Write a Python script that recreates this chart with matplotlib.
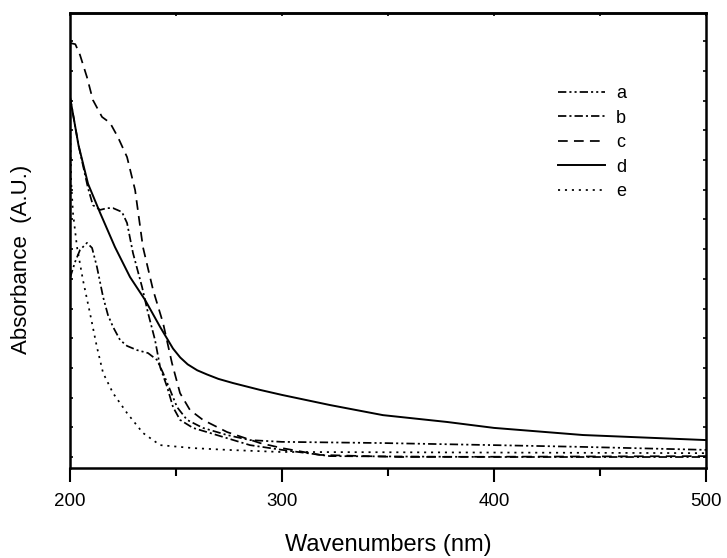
import numpy as np
import matplotlib
matplotlib.use("Agg")
import matplotlib.pyplot as plt

plt.rcParams["font.family"] = ["Liberation Sans", "DejaVu Sans"]
plt.rcParams["lines.scale_dashes"] = False

# ── Data (arbitrary absorbance units) ────────────────────────────────────────
wl_a = [200, 202.4, 204.7, 208.0, 210.4, 212.7, 215.6, 217.9, 220.3, 223.6,
        226.9, 231.6, 236.8, 241.0, 243.9, 247.2, 250.5, 255.2, 262.7, 274.1,
        284.9, 300, 347.6, 400, 442, 500]
abs_a = [0.603, 0.657, 0.697, 0.721, 0.704, 0.640, 0.539, 0.478, 0.438, 0.394,
         0.374, 0.360, 0.350, 0.327, 0.283, 0.226, 0.168, 0.125, 0.098, 0.074,
         0.057, 0.051, 0.047, 0.040, 0.034, 0.024]

wl_b = [200, 204, 208.5, 210.8, 214.2, 217.5, 220.3, 224.5, 226.9, 229.7,
        234.0, 236.8, 240.1, 242.5, 245.8, 248.6, 251.9, 258.0, 266.0, 284.9,
        300, 322.6, 400, 500]
abs_b = [1.212, 1.05, 0.905, 0.848, 0.832, 0.838, 0.838, 0.825, 0.788, 0.687,
         0.572, 0.485, 0.394, 0.303, 0.236, 0.168, 0.125, 0.098, 0.081, 0.040,
         0.024, 0.003, 0.0, 0.0]

wl_c = [200, 202.5, 204.7, 208.0, 210.8, 215.1, 218.9, 222.6, 226.9, 230.7,
        234.4, 239.2, 243.9, 248.1, 251.9, 256.6, 262.7, 274.1, 289.6, 300,
        317.9, 355.7, 500]
abs_c = [1.394, 1.39, 1.354, 1.279, 1.202, 1.145, 1.125, 1.077, 1.010, 0.899,
         0.707, 0.562, 0.451, 0.316, 0.215, 0.158, 0.125, 0.084, 0.047, 0.030,
         0.007, 0.000, 0.003]

wl_d = [200, 204, 208.5, 214.2, 221.2, 228.3, 235.4, 242.5, 248.6, 252.0,
        255.5, 260.0, 264.6, 270.0, 276.9, 289.6, 300, 322.6, 347.6, 377.8,
        400, 442, 500]
abs_d = [1.212, 1.05, 0.92, 0.822, 0.707, 0.606, 0.529, 0.438, 0.365, 0.335,
         0.312, 0.292, 0.278, 0.263, 0.249, 0.226, 0.209, 0.175, 0.141, 0.118,
         0.098, 0.074, 0.057]

wl_e = [200, 200.5, 201.4, 203.3, 206.1, 209.4, 212.7, 215.6, 220.3, 226.9,
        234.4, 242.5, 258.0, 274.1, 299.1, 400, 500]
abs_e = [1.15, 0.933, 0.822, 0.707, 0.596, 0.485, 0.370, 0.283, 0.215, 0.148,
         0.081, 0.040, 0.030, 0.024, 0.017, 0.015, 0.013]

labels = ["a", "b", "c", "d", "e"]

# ── Figure ───────────────────────────────────────────────────────────────────
fig = plt.figure(figsize=(7.27, 5.58), dpi=100)
ax = fig.add_axes([0.0963, 0.1613, 0.8748, 0.8154])

lw = 1.25
ax.plot(wl_a, abs_a, color="black", lw=lw, ls=(0, (6, 2.2, 1.5, 2.2, 1.5, 2.2)), label=labels[0])
ax.plot(wl_b, abs_b, color="black", lw=lw, ls=(0, (6, 2.2, 1.5, 2.2)), label=labels[1])
ax.plot(wl_c, abs_c, color="black", lw=lw, ls=(0, (7, 4.5)), label=labels[2])
ax.plot(wl_d, abs_d, color="black", lw=1.4, ls="-", label=labels[3])
ax.plot(wl_e, abs_e, color="black", lw=lw, ls=(0, (1.5, 3.5)), label=labels[4])

ax.set_xlim(200, 500)
ax.set_ylim(-0.037, 1.495)

# bottom ticks: outward, major + minor
ax.set_xticks([200, 300, 400, 500])
ax.set_xticks([250, 350, 450], minor=True)
ax.tick_params(axis="x", which="major", direction="out", length=10, width=1.5,
               labelsize=13.5, pad=8)
ax.tick_params(axis="x", which="minor", direction="out", length=5.5, width=1.5)

# y ticks: tiny inward marks on both sides, no labels
ax.set_yticks(np.arange(0, 1.41, 0.1))
ax.tick_params(axis="y", which="both", direction="in", length=2, width=1.2,
               left=True, right=True, labelleft=False)

# top ticks
top = ax.secondary_xaxis("top")
top.set_xticks(np.arange(200, 501, 50))
top.tick_params(direction="in", length=2, width=1.2, labeltop=False)
top.spines["top"].set_linewidth(1.8)

for s in ax.spines.values():
    s.set_linewidth(1.8)

fig.text(388 / 727, 1 - 545 / 558, "Wavenumbers (nm)", fontsize=17,
         ha="center", va="center")
fig.text(22 / 727, 1 - 259 / 558, "Absorbance  (A.U.)", fontsize=16,
         rotation=90, ha="center", va="center")

ax.legend(loc="upper left", bbox_to_anchor=(558 / 727, 1 - 85 / 558),
          bbox_transform=fig.transFigure, frameon=False, fontsize=13,
          handlelength=2.6, handletextpad=0.6, labelspacing=0.42,
          borderpad=0, borderaxespad=0)

fig.savefig("out.png", dpi=100)
